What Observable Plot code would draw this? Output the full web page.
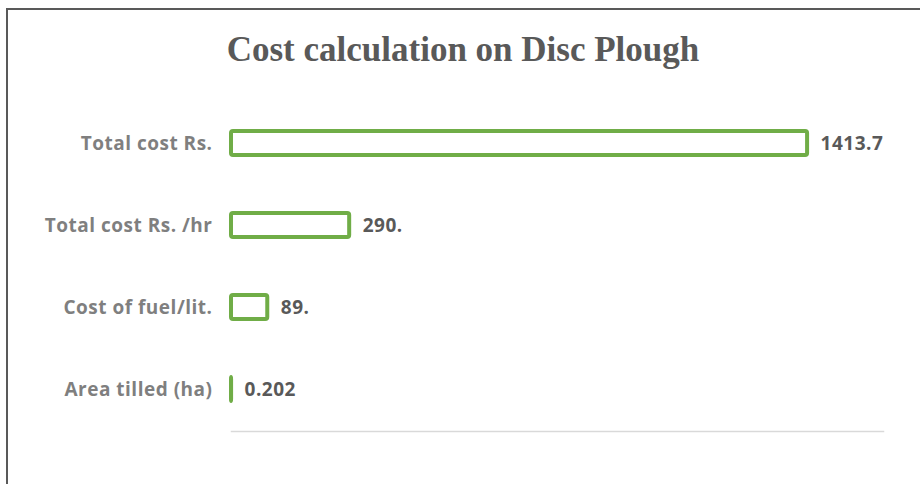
<!DOCTYPE html>
<html>
<head>
<meta charset="utf-8">
<script src="https://cdn.jsdelivr.net/npm/d3@7"></script>
<script src="https://cdn.jsdelivr.net/npm/@observablehq/plot@0.6"></script>
<style>
  html, body { margin: 0; padding: 0; background: #fff; }
  #wrap { position: relative; width: 920px; height: 484px; overflow: hidden; }
  #border { position: absolute; left: 6px; top: 8px; width: 930px; height: 500px;
            border-left: 2px solid #595959; border-top: 2px solid #595959; }
  #title { position: absolute; left: 0; top: 30px; width: 926px; text-align: center;
           font-family: "Liberation Serif", "Times New Roman", serif; font-weight: bold;
           font-size: 35px; line-height: 40px; color: #595959; }
  #chart { position: absolute; left: 0; top: 0; }
  #chart svg text { letter-spacing: 0.5px; }
</style>
</head>
<body>
<div id="wrap">
  <div id="border"></div>
  <div id="title">Cost calculation on Disc Plough</div>
  <div id="chart"></div>
</div>
<script>
const categories = ["Total cost Rs.", "Total cost Rs. /hr", "Cost of fuel/lit.", "Area tilled (ha)"];
const values = [1413.7, 290, 89, 0.202];
const valueLabels = ["1413.7", "290.", "89.", "0.202"];

const data = categories.map((c, i) => ({category: c, value: values[i], label: valueLabels[i]}));

const chart = Plot.plot({
  width: 920,
  height: 484,
  marginTop: 101,
  marginBottom: 53,
  marginLeft: 231,
  marginRight: 37,
  style: {fontFamily: "'Open Sans', sans-serif", background: "transparent"},
  x: {domain: [0, 1600], axis: null},
  y: {domain: categories, padding: 0, axis: null},
  marks: [
    Plot.frame({anchor: "bottom", stroke: "#d9d9d9", strokeWidth: 1.5}),
    Plot.barX(data, {
      y: "category", x1: 0, x2: "value",
      fill: "white", stroke: "#70ad47", strokeWidth: 4,
      insetTop: 29, insetBottom: 29, rx: 2
    }),
    Plot.text(data, {
      y: "category", x: "value", text: "label",
      textAnchor: "start", dx: 13, fill: "#595959",
      fontWeight: "bold", fontSize: 19
    }),
    Plot.text(data, {
      y: "category", text: "category", frameAnchor: "left",
      textAnchor: "end", dx: -19, fill: "#7f7f7f",
      fontWeight: "bold", fontSize: 19
    })
  ]
});
document.getElementById("chart").appendChild(chart);
</script>
</body>
</html>
